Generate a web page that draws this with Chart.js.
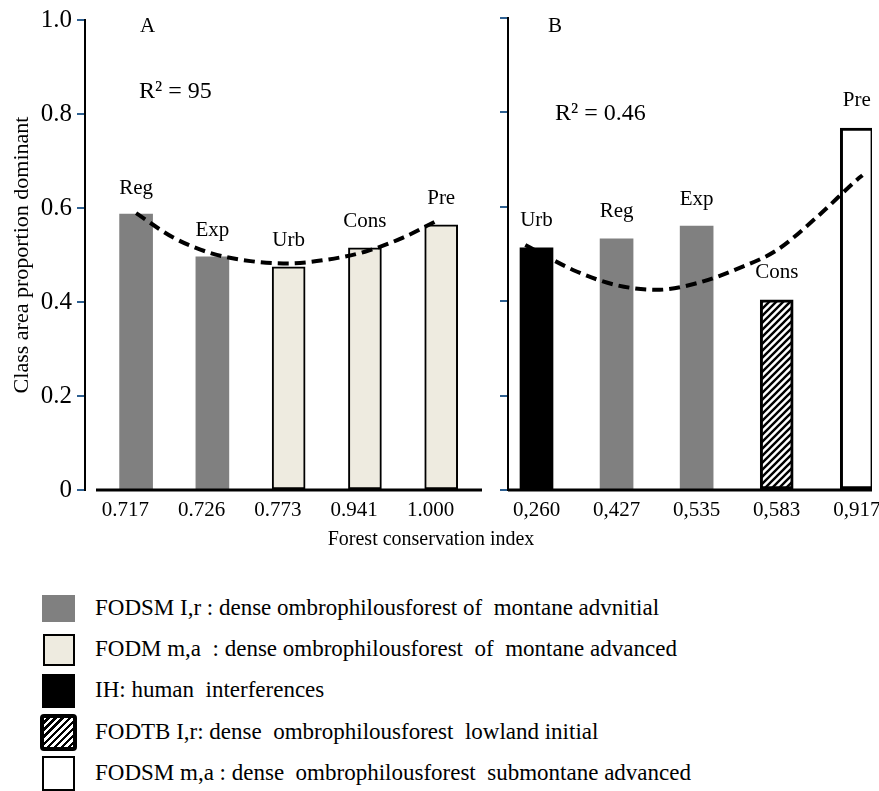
<!DOCTYPE html>
<html>
<head>
<meta charset="utf-8">
<script src="https://cdn.jsdelivr.net/npm/chart.js@4.4.1/dist/chart.umd.min.js"></script>
<style>
html,body{margin:0;padding:0;background:#fff;overflow:hidden;width:879px;height:791px;}
body{position:relative;font-family:"Liberation Serif","DejaVu Serif",serif;color:#000;}
canvas{position:absolute;top:0;}
.t{position:absolute;font-size:21px;line-height:1;white-space:pre;}
.r2{font-size:24px;}
.row{position:absolute;left:95px;font-size:23px;line-height:1;white-space:pre;}
.sw{position:absolute;box-sizing:border-box;}
</style>
</head>
<body>
<canvas id="ca" width="490" height="530" style="left:0px"></canvas>
<canvas id="cb" width="400" height="530" style="left:490px"></canvas>
<div class="t" style="left:140px;top:15px">A</div>
<div class="t r2" style="left:139px;top:78px">R² = 95</div>
<div class="t" style="left:548px;top:15px">B</div>
<div class="t r2" style="left:555px;top:100px">R² = 0.46</div>
<div class="t" id="xtitle" style="left:431px;top:528px;font-size:20px;transform:translateX(-50%)"></div>
<div id="legend"></div>
<script>
// ---- data ----
const yTicks = [0, 0.2, 0.4, 0.6, 0.8, 1.0];
const yTitle = 'Class area proportion dominant';
const xTitle = 'Forest conservation index';

const aCategories = ['0.717', '0.726', '0.773', '0.941', '1.000'];
const aClasses = ['Reg', 'Exp', 'Urb', 'Cons', 'Pre'];
const aValues = [0.587, 0.496, 0.475, 0.515, 0.564];
const aTypes = ['FODSM_Ir', 'FODSM_Ir', 'FODM_ma', 'FODM_ma', 'FODM_ma'];
const aTrendX = [0, 0.5, 1, 1.5, 2, 2.5, 3, 3.5, 3.98];
const aTrendY = [0.589, 0.536, 0.503, 0.487, 0.482, 0.490, 0.507, 0.537, 0.576];

const bCategories = ['0,260', '0,427', '0,535', '0,583', '0,917'];
const bClasses = ['Urb', 'Reg', 'Exp', 'Cons', 'Pre'];
const bValues = [0.513, 0.532, 0.559, 0.403, 0.767];
const bTypes = ['IH', 'FODSM_Ir', 'FODSM_Ir', 'FODTB_Ir', 'FODSM_ma'];
const bTrendX = [-0.14, 0.5, 1, 1.5, 2, 2.5, 3, 3.5, 4, 4.07];
const bTrendY = [0.519, 0.463, 0.434, 0.424, 0.438, 0.468, 0.508, 0.578, 0.657, 0.667];

const legendKeys = ['FODSM_Ir', 'FODM_ma', 'IH', 'FODTB_Ir', 'FODSM_ma'];
const legendTexts = [
  'FODSM I,r : dense ombrophilousforest of  montane advnitial',
  'FODM m,a  : dense ombrophilousforest  of  montane advanced',
  'IH: human  interferences',
  'FODTB I,r: dense  ombrophilousforest  lowland initial',
  'FODSM m,a : dense  ombrophilousforest  submontane advanced'
];

// ---- styles ----
const FONT = '"Liberation Serif", "DejaVu Serif", serif';
Chart.defaults.font.family = FONT;
Chart.defaults.color = '#000';

function makeHatch() {
  const c = document.createElement('canvas');
  c.width = 7; c.height = 7;
  const g = c.getContext('2d');
  g.fillStyle = '#fff'; g.fillRect(0, 0, 7, 7);
  g.strokeStyle = '#000'; g.lineWidth = 2.4;
  g.beginPath();
  g.moveTo(-1, 8); g.lineTo(8, -1);
  g.moveTo(-4, 4); g.lineTo(4, -4);
  g.moveTo(3, 11); g.lineTo(11, 3);
  g.stroke();
  return document.getElementById('ca').getContext('2d').createPattern(c, 'repeat');
}
const hatch = makeHatch();

const styles = {
  FODSM_Ir: {bg: '#808080', border: '#808080', bw: 0, css: 'background:#808080;', w: 33, h: 27},
  FODM_ma: {bg: '#eeebe0', border: '#000', bw: 2, css: 'background:#eeebe0;border:2px solid #000;', w: 32, h: 32},
  IH: {bg: '#000', border: '#000', bw: 0, css: 'background:#000;', w: 33, h: 34},
  FODTB_Ir: {bg: hatch, border: '#000', bw: 3, css: 'background:repeating-linear-gradient(135deg,#fff 0 2px,#000 2px 4.5px,#fff 4.5px 5px);border:4px solid #000;border-radius:4px;', w: 37, h: 37},
  FODSM_ma: {bg: '#fff', border: '#000', bw: 3, css: 'background:#fff;border:2px solid #000;', w: 33, h: 35}
};

// ---- plugins ----
const barLabels = {
  id: 'barLabels',
  afterDatasetsDraw(chart, args, opts) {
    const meta = chart.getDatasetMeta(0);
    const ctx = chart.ctx;
    ctx.save();
    ctx.font = '21px ' + FONT;
    ctx.fillStyle = '#000';
    ctx.textAlign = 'center';
    ctx.textBaseline = 'middle';
    meta.data.forEach((el, i) => ctx.fillText(opts.labels[i], el.x, el.y - opts.gap));
    ctx.restore();
  }
};
const xLine = {
  id: 'xLine',
  afterDraw(chart, args, opts) {
    const {ctx, chartArea} = chart;
    ctx.save();
    ctx.strokeStyle = '#000';
    ctx.lineWidth = 3;
    ctx.beginPath();
    ctx.moveTo(chartArea.left + opts.gap, chartArea.bottom);
    ctx.lineTo(chartArea.right, chartArea.bottom);
    ctx.stroke();
    ctx.restore();
  }
};

function build(id, cats, classes, values, types, tx, ty, xmin, xmax, yWidth, padRight, showY, labelGap, lineGap, tickShift) {
  const st = types.map(t => styles[t]);
  return new Chart(document.getElementById(id), {
    type: 'bar',
    data: {
      datasets: [
        {
          type: 'bar',
          data: values.map((v, i) => ({x: i, y: v})),
          backgroundColor: st.map(s => s.bg),
          borderColor: st.map(s => s.border),
          borderWidth: st.map(s => s.bw),
          borderSkipped: false,
          barThickness: 33,
          order: 2
        },
        {
          type: 'line',
          data: tx.map((x, i) => ({x: x, y: ty[i]})),
          borderColor: '#000',
          borderWidth: 4,
          borderDash: [11, 6],
          borderCapStyle: 'butt',
          pointRadius: 0,
          tension: 0.4,
          cubicInterpolationMode: 'monotone',
          fill: false,
          order: 1
        }
      ]
    },
    options: {
      responsive: false,
      animation: false,
      layout: {padding: {top: 18, right: padRight, left: 0, bottom: 0}},
      plugins: {
        legend: {display: false},
        tooltip: {enabled: false},
        barLabels: {labels: classes, gap: labelGap},
        xLine: {gap: lineGap}
      },
      scales: {
        x: {
          type: 'linear',
          min: xmin, max: xmax,
          offset: false,
          grid: {display: false, drawTicks: false},
          border: {display: false},
          afterBuildTicks: s => { s.ticks = cats.map((c, i) => ({value: i + tickShift})); },
          afterFit: s => { s.height = 40; },
          ticks: {
            autoSkip: false, maxRotation: 0, padding: 8,
            font: {size: 21, family: FONT}, color: '#000',
            callback: v => cats[Math.round(v - tickShift)]
          }
        },
        y: {
          type: 'linear',
          min: 0, max: 1,
          afterBuildTicks: s => { s.ticks = yTicks.map(v => ({value: v})); },
          afterFit: s => { s.width = yWidth; },
          grid: {display: true, drawOnChartArea: false, drawTicks: true, tickLength: 8, color: '#2e6091', lineWidth: 2},
          border: {display: true, color: '#000', width: 2},
          ticks: {
            display: showY, padding: 5,
            font: {size: 25, family: FONT}, color: '#000',
            callback: v => v === 0 ? '0' : v.toFixed(1)
          },
          title: {
            display: showY, text: yTitle,
            font: {size: 22, family: FONT}, color: '#000',
            padding: {top: 9, bottom: 0}
          }
        }
      }
    },
    plugins: [barLabels, xLine]
  });
}

build('ca', aCategories, aClasses, aValues, aTypes, aTrendX, aTrendY, -0.67, 4.535, 85, 8, true, 26, 11, -0.14);
build('cb', bCategories, bClasses, bValues, bTypes, bTrendX, bTrendY, -0.356, 4.19, 18, 18, false, 27, 0, 0);

document.getElementById('xtitle').textContent = xTitle;

// ---- legend ----
const leg = document.getElementById('legend');
legendKeys.forEach((k, i) => {
  const top = 596 + i * 41.2;
  const mid = top + 12.5;
  const s = styles[k];
  const sw = document.createElement('div');
  sw.className = 'sw';
  sw.style.cssText = s.css + 'left:' + (58.5 - s.w / 2) + 'px;top:' + (mid - s.h / 2) + 'px;width:' + s.w + 'px;height:' + s.h + 'px;';
  leg.appendChild(sw);
  const r = document.createElement('div');
  r.className = 'row';
  r.style.top = top + 'px';
  r.textContent = legendTexts[i];
  leg.appendChild(r);
});
</script>
</body>
</html>
